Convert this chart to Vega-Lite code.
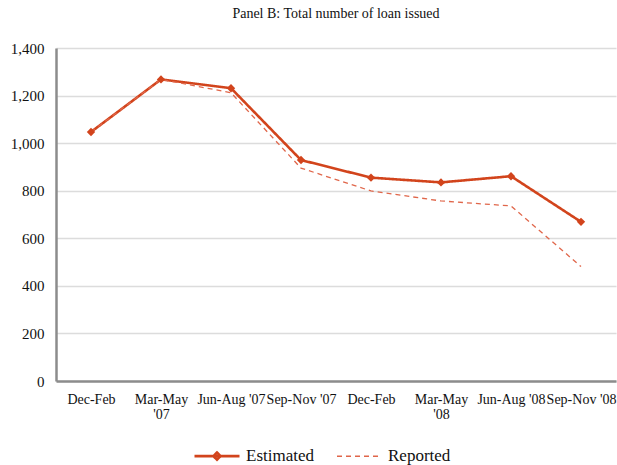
{
  "$schema": "https://vega.github.io/schema/vega-lite/v6.json",
  "width": 560,
  "height": 333,
  "autosize": {"type": "none"},
  "padding": {"left": 56, "top": 48, "right": 1, "bottom": 84},
  "background": "white",
  "title": {"text": "Panel B: Total number of loan issued", "font": "Liberation Serif", "fontSize": 14, "fontWeight": "normal", "color": "#111", "offset": 20, "anchor": "middle"},
  "config": {"view": {"stroke": null}, "legend": {"labelFont": "Liberation Serif"}},
  "data": {"values": [
    {"idx": 1, "series": "Estimated", "value": 1047},
    {"idx": 2, "series": "Estimated", "value": 1268},
    {"idx": 3, "series": "Estimated", "value": 1231},
    {"idx": 4, "series": "Estimated", "value": 929},
    {"idx": 5, "series": "Estimated", "value": 855},
    {"idx": 6, "series": "Estimated", "value": 835},
    {"idx": 7, "series": "Estimated", "value": 861},
    {"idx": 8, "series": "Estimated", "value": 669},
    {"idx": 1, "series": "Reported", "value": 1047},
    {"idx": 2, "series": "Reported", "value": 1268},
    {"idx": 3, "series": "Reported", "value": 1212},
    {"idx": 4, "series": "Reported", "value": 895},
    {"idx": 5, "series": "Reported", "value": 799},
    {"idx": 6, "series": "Reported", "value": 757},
    {"idx": 7, "series": "Reported", "value": 736},
    {"idx": 8, "series": "Reported", "value": 481}
  ]},
  "encoding": {
    "x": {"field": "idx", "type": "ordinal", "scale": {"paddingInner": 0, "paddingOuter": 0.5},
      "axis": {"title": null, "labelAngle": 0, "ticks": false, "grid": false, "domainColor": "#8c8c8c", "domainWidth": 2.5,
        "labelFont": "Liberation Serif", "labelFontSize": 14, "labelColor": "#111", "labelPadding": 11, "labelOverlap": false, "labelLimit": 0, "labelBaseline": "top", "labelLineHeight": 15,
        "labelExpr": "[['Dec-Feb'], ['Mar-May', \"'07\"], [\"Jun-Aug '07\"], [\"Sep-Nov '07\"], ['Dec-Feb'], ['Mar-May', \"'08\"], [\"Jun-Aug '08\"], [\"Sep-Nov '08\"]][datum.value - 1]"}},
    "y": {"field": "value", "type": "quantitative", "scale": {"domain": [0, 1400]},
      "axis": {"title": null, "values": [0, 200, 400, 600, 800, 1000, 1200, 1400], "format": ",.0f", "ticks": false, "gridColor": "#dcdcdc", "gridWidth": 1.5,
        "domainColor": "#8c8c8c", "domainWidth": 2.5, "labelFont": "Liberation Serif", "labelFontSize": 15, "labelColor": "#111", "labelPadding": 12}}
  },
  "layer": [
    {
      "mark": {"type": "line"},
      "encoding": {
        "color": {"field": "series", "type": "nominal", "scale": {"domain": ["Estimated", "Reported"], "range": ["#d2441c", "#e0664a"]},
          "legend": {"title": null, "orient": "none", "direction": "horizontal", "legendX": 137, "legendY": 384,
            "labelFont": "Liberation Serif", "labelFontSize": 17, "labelColor": "#111", "symbolSize": 2025, "columnPadding": 20, "labelOffset": 5,
            "symbolStrokeWidth": 2,
            "symbolType": "stroke",
            "encode": {
              "labels": {"update": {"font": {"value": "Liberation Serif"}, "fontSize": {"value": 17}}},
              "symbols": {"update": {"shape": {"signal": "datum.value === 'Estimated' ? 'M-1,0H1M0,-0.16L0.16,0L0,0.16L-0.16,0Z' : 'stroke'"}, "strokeWidth": {"signal": "datum.value === 'Estimated' ? 2.6 : 1.3"}}}}}},
        "strokeDash": {"field": "series", "type": "nominal", "scale": {"domain": ["Estimated", "Reported"], "range": [[1, 0], [5, 4]]}, "legend": null},
        "strokeWidth": {"field": "series", "type": "nominal", "scale": {"domain": ["Estimated", "Reported"], "range": [2.6, 1.3]}, "legend": null}
      }
    },
    {
      "transform": [{"filter": "datum.series === 'Estimated'"}],
      "mark": {"type": "point", "shape": "diamond", "filled": true, "size": 70, "color": "#d2441c", "opacity": 1}
    }
  ]
}
